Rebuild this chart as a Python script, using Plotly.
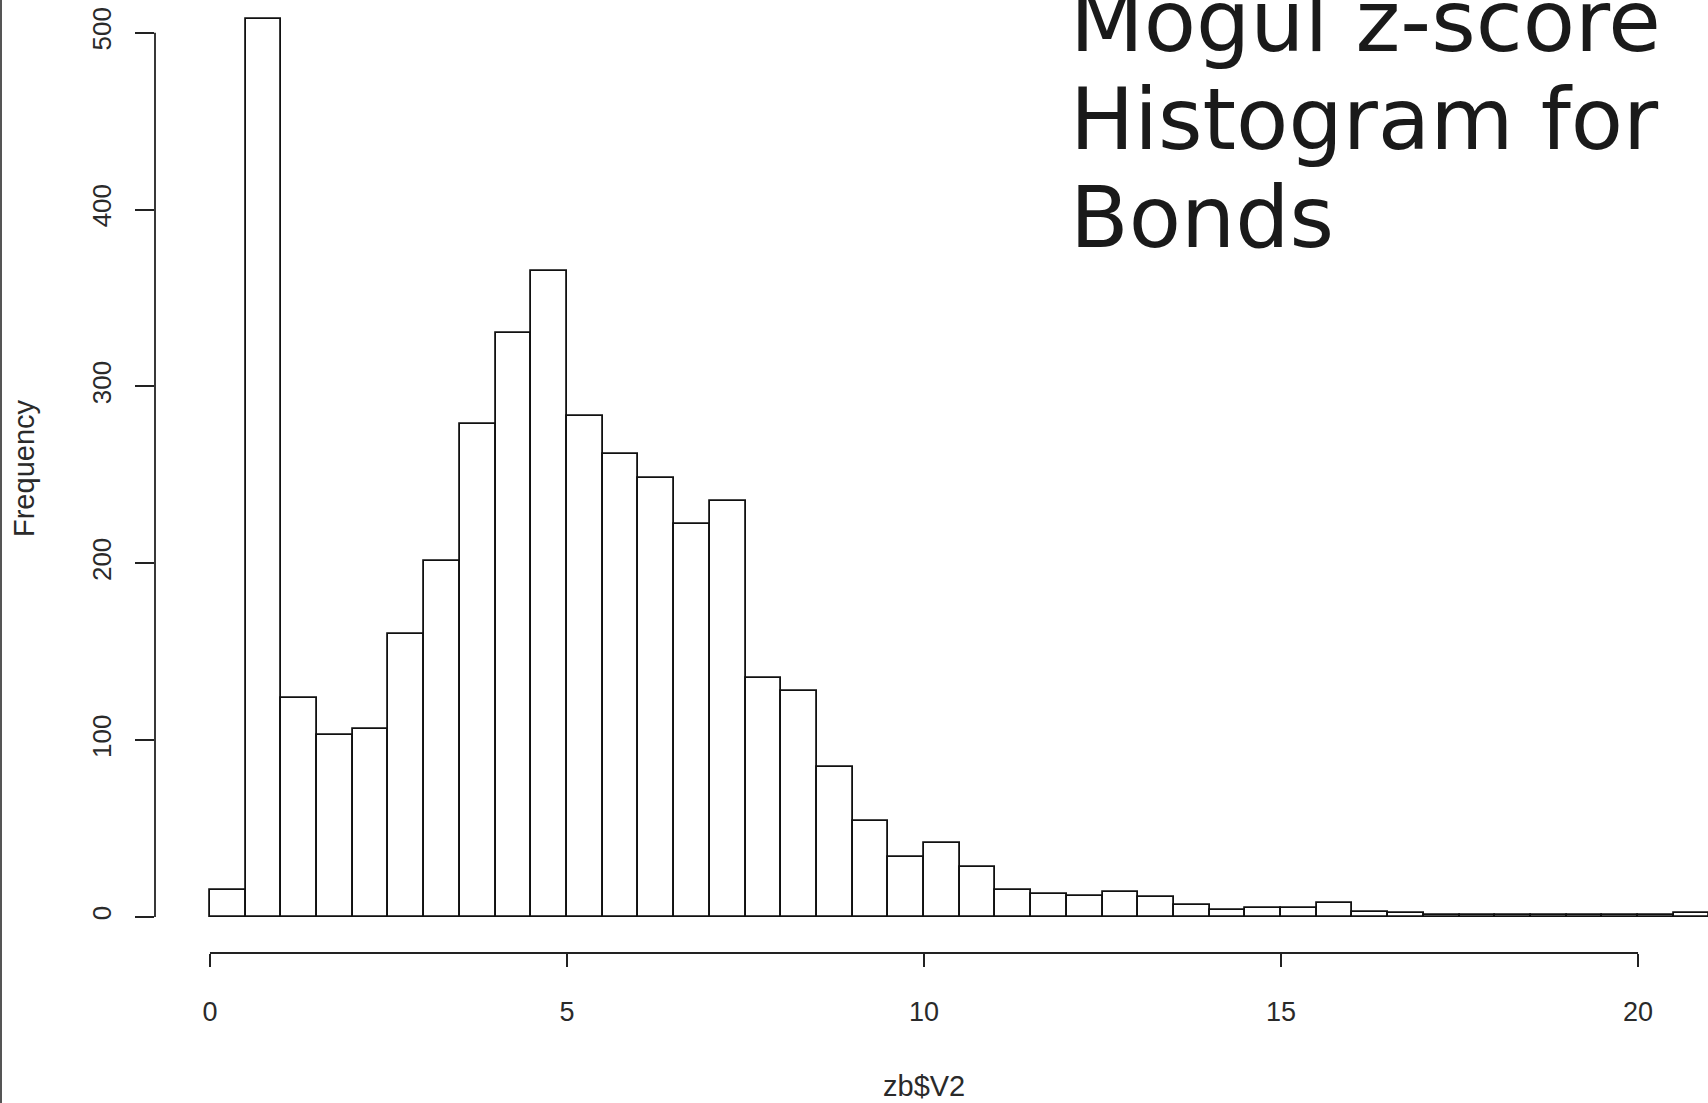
import plotly.graph_objects as go

# ---- data (bin width 0.5) ----
bin_starts = [0.0, 0.5, 1.0, 1.5, 2.0, 2.5, 3.0, 3.5, 4.0, 4.5,
              5.0, 5.5, 6.0, 6.5, 7.0, 7.5, 8.0, 8.5, 9.0, 9.5,
              10.0, 10.5, 11.0, 11.5, 12.0, 12.5, 13.0, 13.5, 14.0, 14.5,
              15.0, 15.5, 16.0, 16.5, 17.0, 17.5, 18.0, 18.5, 19.0, 19.5,
              20.0, 20.5]
counts = [15, 508, 124, 103, 106, 160, 201, 279, 330, 365,
          283, 262, 248, 222, 235, 135, 128, 85, 54, 34,
          42, 28, 15, 13, 12, 14, 11, 7, 4, 5,
          5, 8, 3, 2, 1, 1, 1, 1, 1, 1,
          1, 2]
bin_width = 0.5
x_ticks = [0, 5, 10, 15, 20]
y_ticks = [0, 100, 200, 300, 400, 500]
title_lines = ["Mogul z-score", "Histogram for", "Bonds"]
x_label = "zb$V2"
y_label = "Frequency"

W, H = 1708, 1103
ML, MB = 155, 150
PW, PH = W - ML, H - MB

centers = [s + bin_width / 2 for s in bin_starts]

fig = go.Figure()
fig.add_trace(go.Bar(
    x=centers, y=counts, width=[bin_width] * len(counts),
    marker=dict(color="white", line=dict(color="#111111", width=1.8)),
    showlegend=False, hoverinfo="x+y",
))

axis_font = dict(family="Liberation Sans, Arial, sans-serif", size=27, color="#2a2a2a")

fig.update_layout(
    width=W, height=H,
    margin=dict(l=ML, r=0, t=0, b=MB, autoexpand=False),
    paper_bgcolor="white", plot_bgcolor="white",
    bargap=0,
    xaxis=dict(range=[-0.77, 20.98], tickvals=x_ticks, ticks="outside", ticklen=13,
               tickwidth=1.6, tickcolor="#222", showgrid=False, zeroline=False,
               showline=False, tickfont=axis_font, ticklabelstandoff=22, automargin=False),
    yaxis=dict(range=[-20.4, 518.5], tickvals=y_ticks, ticks="outside", ticklen=19,
               tickwidth=1.6, tickcolor="#222", showgrid=False, zeroline=False,
               showline=False, tickangle=-90, tickfont=dict(axis_font, size=26),
               ticklabelstandoff=14, automargin=False),
    shapes=[
        # R-style axis lines spanning only the tick range
        dict(type="line", xref="x", yref="paper", x0=x_ticks[0], x1=x_ticks[-1], y0=0, y1=0,
             line=dict(color="#222", width=1.8)),
        dict(type="line", xref="paper", yref="y", x0=0, x1=0, y0=y_ticks[0], y1=y_ticks[-1],
             line=dict(color="#222", width=1.8)),
        # left image border
        dict(type="line", xref="paper", yref="paper", x0=(1 - ML) / PW, x1=(1 - ML) / PW,
             y0=-MB / PH, y1=1, line=dict(color="#555", width=2)),
    ],
)

annotations = []
# title lines (baselines at ~51, 149, 247 px from top)
tfs = 85.5
for line, base in zip(title_lines, [51, 149, 247]):
    cy = base - 0.346 * tfs
    annotations.append(dict(
        text=line, xref="paper", yref="paper",
        x=(1068 - ML) / PW, y=(PH - cy) / PH, xanchor="left", yanchor="middle",
        showarrow=False, font=dict(family="DejaVu Sans, sans-serif", size=tfs, color="#1a1a1a"),
    ))
annotations.append(dict(
    text=y_label, xref="paper", yref="paper", x=(24 - ML) / PW, y=(PH - 468) / PH,
    xanchor="center", yanchor="middle", textangle=-90, showarrow=False,
    font=dict(axis_font, size=29),
))
annotations.append(dict(
    text=x_label, xref="x", yref="paper", x=10, y=(PH - 1086) / PH,
    xanchor="center", yanchor="middle", showarrow=False,
    font=dict(axis_font, size=29),
))
fig.update_layout(annotations=annotations)

post = """
document.documentElement.style.margin='0';
document.body.style.margin='0';
document.body.style.overflow='hidden';
"""

fig.write_html("out.html", post_script=post, config={"displayModeBar": False})
